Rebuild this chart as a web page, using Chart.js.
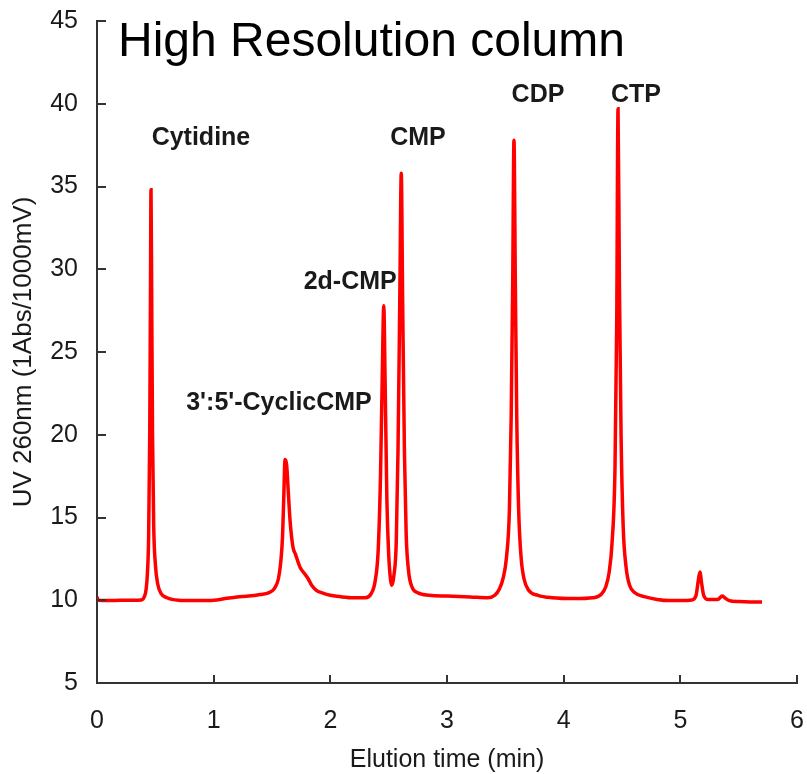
<!DOCTYPE html>
<html><head><meta charset="utf-8">
<script src="https://cdn.jsdelivr.net/npm/chart.js@4.4.1/dist/chart.umd.min.js"></script>
<style>html,body{margin:0;padding:0;background:#fff;overflow:hidden}</style>
</head><body>
<canvas id="c" width="807" height="774"></canvas>
<script>
// Elution time (min)
const elutionTime = [
  0.00,0.01,0.10,0.20,0.30,0.38,0.405,0.42,0.432,0.443,0.452,0.458,0.463,0.469,0.476,0.486,0.50,0.52,0.55,0.60,
  0.70,0.80,0.90,1.00,1.10,1.20,1.30,1.40,1.47,1.52,1.555,1.575,1.59,1.60,1.612,1.625,1.64,1.655,1.68,1.70,
  1.74,1.78,1.81,1.84,1.88,1.93,2.00,2.10,2.20,2.30,2.35,2.385,2.41,2.43,2.445,2.458,2.47,2.485,2.50,2.515,
  2.528,2.545,2.565,2.58,2.595,2.608,2.62,2.635,2.65,2.67,2.70,2.75,2.85,3.00,3.20,3.35,3.41,3.45,3.48,3.51,
  3.535,3.55,3.563,3.574,3.586,3.598,3.614,3.635,3.66,3.70,3.78,3.90,4.10,4.25,4.32,4.36,4.39,4.415,4.44,4.455,
  4.466,4.478,4.492,4.51,4.535,4.565,4.61,4.70,4.80,4.90,5.00,5.10,5.135,5.152,5.168,5.183,5.20,5.24,5.32,5.36,
  5.38,5.42,5.50,5.60,5.70
];
// UV 260nm signal
const uv260 = [
  10.2,10.0,9.98,10.0,10.0,10.02,10.2,10.6,11.6,14,20,28,34.8,28,20,14.5,12.2,11.0,10.4,10.15,
  10.0,9.98,9.98,10.0,10.1,10.2,10.25,10.35,10.45,10.7,11.3,12.3,13.8,16,18.5,18.2,16.5,14.8,13.2,12.8,
  12.0,11.6,11.3,10.9,10.6,10.45,10.3,10.2,10.15,10.15,10.4,11.2,13,17.5,23.5,27.8,23,16,12.8,11.3,
  10.9,11.5,13.5,19,28,35.8,28,19,14,11.8,10.8,10.45,10.3,10.25,10.2,10.15,10.3,10.7,11.3,12.6,
  15.5,21,29,37.8,29,21,15.5,12.6,11.3,10.6,10.3,10.15,10.1,10.15,10.35,10.8,11.7,13.5,18,27,
  39.7,29,20,14.5,12,10.9,10.45,10.2,10.05,9.98,9.98,10.02,10.3,11.1,11.7,11.0,10.3,10.05,10.05,10.25,
  10.15,9.98,9.92,9.9,9.9
];
const xTickValues = [0,1,2,3,4,5,6];
const yTickValues = [5,10,15,20,25,30,35,40,45];
const peakNames = ['Cytidine','3\':5\'-CyclicCMP','2d-CMP','CMP','CDP','CTP'];
const chartTitle = 'High Resolution column';

const FONT = '"Liberation Sans", Arial, sans-serif';
const TEXT = '#1a1a1a';

// anchor of each peak name, in data units (time, signal)
const labelAnchors = [
  {t:0.891,v:37.9},{t:1.56,v:21.9},{t:2.17,v:29.2},{t:2.751,v:37.9},{t:3.78,v:40.5},{t:4.62,v:40.5}
];

const overlay = {
  id:'overlay',
  afterDraw(chart){
    const {ctx, chartArea:a, scales:{x,y}} = chart;
    ctx.save();
    // inward tick marks
    ctx.strokeStyle = '#333'; ctx.lineWidth = 2;
    ctx.beginPath();
    y.ticks.forEach(t=>{const p=Math.round(y.getPixelForValue(t.value)); ctx.moveTo(a.left,p); ctx.lineTo(a.left+9,p);});
    x.ticks.forEach(t=>{const p=Math.round(x.getPixelForValue(t.value)); ctx.moveTo(p,a.bottom); ctx.lineTo(p,a.bottom-8);});
    ctx.stroke();
    // peak names
    ctx.fillStyle = TEXT;
    ctx.font = 'bold 25px ' + FONT;
    ctx.textAlign = 'center'; ctx.textBaseline = 'middle';
    peakNames.forEach((n,i)=>{
      ctx.fillText(n, x.getPixelForValue(labelAnchors[i].t), y.getPixelForValue(labelAnchors[i].v));
    });
    // title
    ctx.fillStyle = '#000';
    ctx.font = '48px ' + FONT;
    ctx.textAlign = 'left'; ctx.textBaseline = 'alphabetic';
    ctx.fillText(chartTitle, a.left + 21, 56);
    ctx.restore();
  }
};

new Chart(document.getElementById('c'), {
  type:'line',
  data:{
    datasets:[{
      data: elutionTime.map((t,i)=>({x:t, y:uv260[i]})),
      borderColor:'#ff0000',
      borderWidth:3.5,
      pointRadius:0,
      fill:false,
      cubicInterpolationMode:'monotone'
    }]
  },
  options:{
    responsive:false,
    animation:false,
    layout:{padding:{top:21,right:10,left:0,bottom:0}},
    plugins:{legend:{display:false},tooltip:{enabled:false}},
    scales:{
      x:{
        type:'linear', min:0, max:6,
        afterBuildTicks(s){ s.ticks = xTickValues.map(v=>({value:v})); },
        afterFit(s){ s.height = 91; s.paddingLeft = 0; s.paddingRight = 0; },
        grid:{display:false, drawTicks:false},
        border:{display:true, color:'#333', width:2},
        ticks:{font:{family:FONT,size:25}, color:TEXT, padding:23, maxRotation:0},
        title:{display:true, text:'Elution time (min)', font:{family:FONT,size:25,lineHeight:1}, color:TEXT, padding:{top:0,bottom:1}}
      },
      y:{
        type:'linear', min:5, max:45,
        afterBuildTicks(s){ s.ticks = yTickValues.map(v=>({value:v})); },
        afterFit(s){ s.width = 97; s.paddingTop = 0; s.paddingBottom = 0; },
        grid:{display:false, drawTicks:false},
        border:{display:true, color:'#333', width:2},
        ticks:{font:{family:FONT,size:25}, color:TEXT, padding:19},
        title:{display:true, text:'UV 260nm (1Abs/1000mV)', font:{family:FONT,size:26,lineHeight:1}, color:TEXT, padding:{top:11,bottom:0}}
      }
    }
  },
  plugins:[overlay]
});
</script>
</body></html>
